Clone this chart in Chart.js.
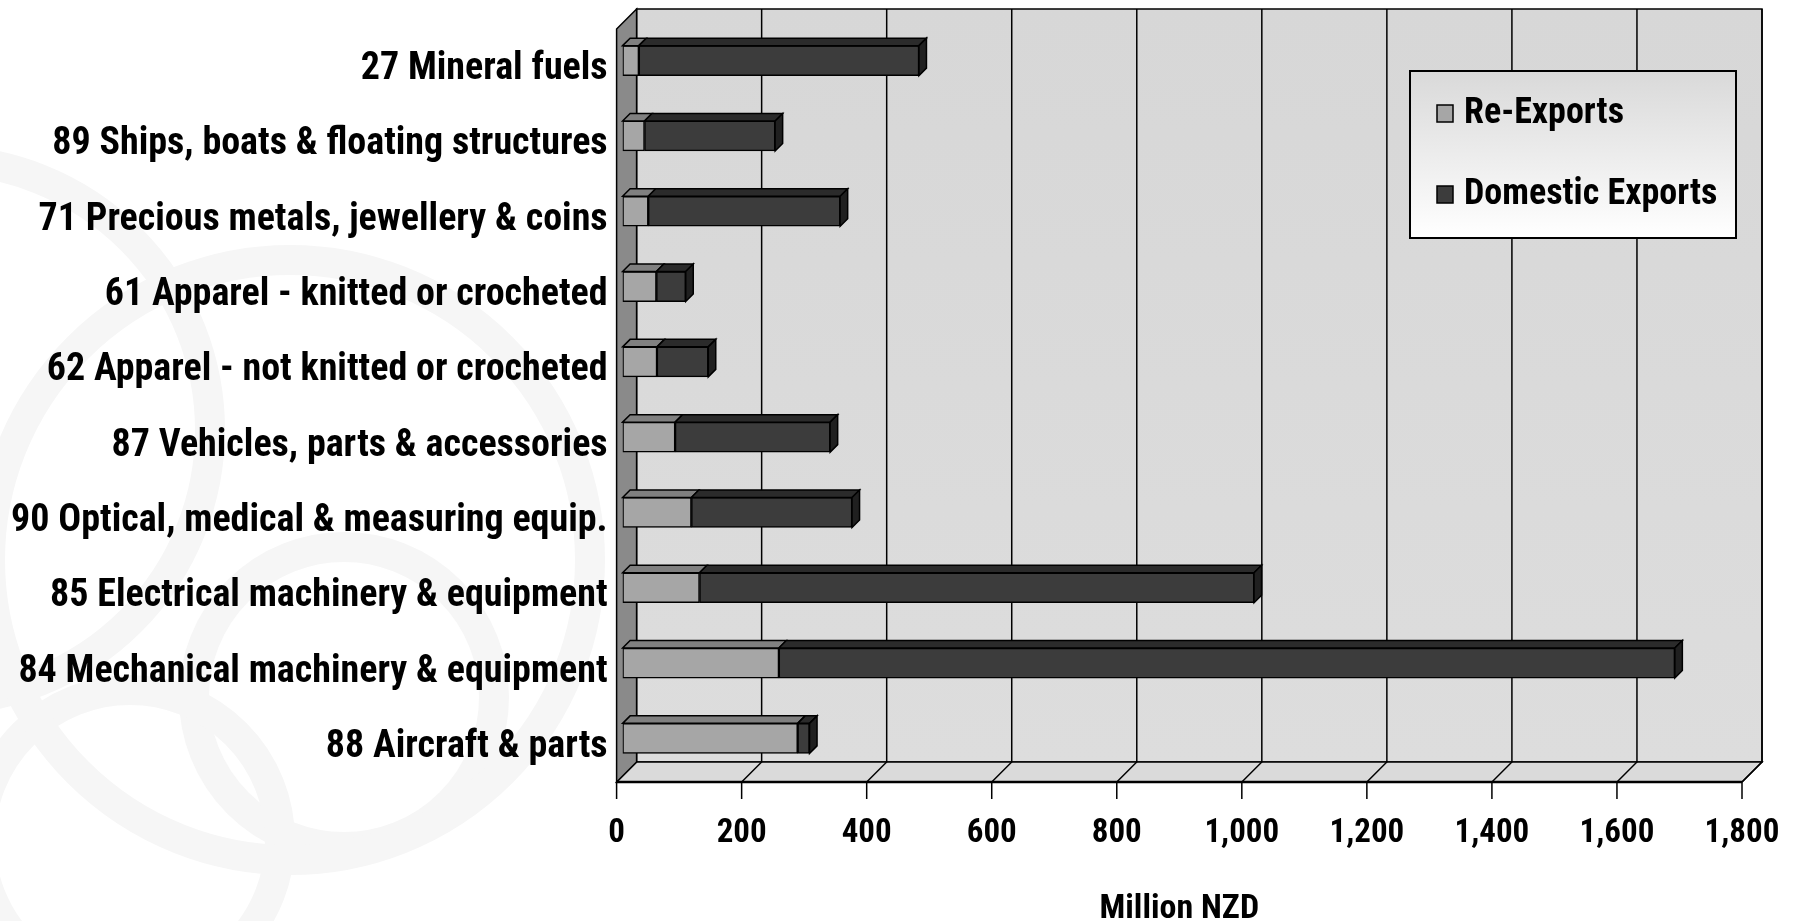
<!DOCTYPE html>
<html><head><meta charset="utf-8">
<script src="https://cdn.jsdelivr.net/npm/chart.js@4.4.0/dist/chart.umd.min.js"></script>
<style>
html,body{margin:0;padding:0;background:#fff;}
#wrap{position:relative;width:1797px;height:921px;}
</style></head><body>
<div id="wrap"><canvas id="c" width="1797" height="921"></canvas></div>
<script>
const categories = [
  '27 Mineral fuels',
  '89 Ships, boats & floating structures',
  '71 Precious metals, jewellery & coins',
  '61 Apparel - knitted or crocheted',
  '62 Apparel - not knitted or crocheted',
  '87 Vehicles, parts & accessories',
  '90 Optical, medical & measuring equip.',
  '85 Electrical machinery & equipment',
  '84 Mechanical machinery & equipment',
  '88 Aircraft & parts'
];
const reExports       = [26, 35, 41, 54, 55, 84, 110, 123, 250, 280];
const domesticExports = [448, 209, 307, 47, 82, 248, 257, 887, 1433, 19];
const seriesNames = ['Re-Exports', 'Domestic Exports'];
const xTickValues = [0, 200, 400, 600, 800, 1000, 1200, 1400, 1600, 1800];
const axisTitle = 'Million NZD';

const FAM = '"Roboto Condensed", "DejaVu Sans Condensed", sans-serif';

const D = 20, BF = 6, BD = 7.5;
const colors = { reFront: '#a6a6a6', reTop: '#808080', doFront: '#3c3c3c', doTop: '#2b2b2b', doSide: '#202020' };

const walls3d = {
  id: 'walls3d',
  beforeDraw(chart) {
    const ctx = chart.ctx;
    const {left:L, right:R, top:T, bottom:B} = chart.chartArea;
    const xs = chart.scales.x;
    ctx.save();
    ctx.fillStyle = '#fff';
    ctx.fillRect(0, 0, chart.width, chart.height);
    ctx.strokeStyle = '#f6f6f6';
    ctx.lineWidth = 30;
    [[344,697,150],[130,840,150],[-60,430,270],[290,560,300]].forEach(([cx,cy,r])=>{
      ctx.beginPath(); ctx.arc(cx,cy,r,0,Math.PI*2); ctx.stroke();
    });
    ctx.lineWidth = 1.5; ctx.strokeStyle = '#000'; ctx.lineJoin = 'miter';
    const g = ctx.createLinearGradient(0, T - D, 0, B - D);
    g.addColorStop(0, '#d7d7d7'); g.addColorStop(1, '#dddddd');
    ctx.fillStyle = g;
    ctx.fillRect(L + D, T - D, R - L, B - T);
    ctx.strokeRect(L + D, T - D, R - L, B - T);
    ctx.beginPath();
    ctx.moveTo(L, B); ctx.lineTo(L + D, B - D); ctx.lineTo(R + D, B - D); ctx.lineTo(R, B); ctx.closePath();
    ctx.fillStyle = '#dadada'; ctx.fill(); ctx.stroke();
    ctx.beginPath();
    ctx.moveTo(L, T); ctx.lineTo(L + D, T - D); ctx.lineTo(L + D, B - D); ctx.lineTo(L, B); ctx.closePath();
    ctx.fillStyle = '#8a8a8a'; ctx.fill(); ctx.stroke();
    xTickValues.forEach(v => {
      const p = xs.getPixelForValue(v);
      ctx.beginPath();
      if (v > 0) { ctx.moveTo(p + D, T - D); ctx.lineTo(p + D, B - D); ctx.lineTo(p, B); }
      ctx.moveTo(p, B); ctx.lineTo(p, B + 17);
      ctx.stroke();
    });
    ctx.lineWidth = 2.5;
    ctx.beginPath(); ctx.moveTo(L, B); ctx.lineTo(R, B); ctx.stroke();
    ctx.restore();
  },
  beforeDatasetsDraw(chart) { chart.ctx.save(); chart.ctx.translate(BF, -BF); },
  afterDatasetsDraw(chart) {
    const ctx = chart.ctx;
    ctx.lineWidth = 1.5; ctx.strokeStyle = '#000'; ctx.lineJoin = 'miter';
    const n = chart.data.datasets.length;
    chart.data.datasets.forEach((ds, di) => {
      chart.getDatasetMeta(di).data.forEach(el => {
        const p = el.getProps(['x','y','base','height'], true);
        const x0 = Math.min(p.base, p.x), x1 = Math.max(p.base, p.x);
        const yt = p.y - p.height / 2, yb = p.y + p.height / 2;
        ctx.beginPath();
        ctx.moveTo(x0, yt); ctx.lineTo(x0 + BD, yt - BD); ctx.lineTo(x1 + BD, yt - BD); ctx.lineTo(x1, yt); ctx.closePath();
        ctx.fillStyle = ds.topColor; ctx.fill(); ctx.stroke();
        if (di === n - 1) {
          ctx.beginPath();
          ctx.moveTo(x1, yt); ctx.lineTo(x1 + BD, yt - BD); ctx.lineTo(x1 + BD, yb - BD); ctx.lineTo(x1, yb); ctx.closePath();
          ctx.fillStyle = ds.sideColor; ctx.fill(); ctx.stroke();
        }
      });
    });
    ctx.restore();
  },
  afterDraw(chart) {
    const ctx = chart.ctx;
    const bx = 1410, by = 71, bw = 326, bh = 167;
    ctx.save();
    const g = ctx.createLinearGradient(0, by, 0, by + bh);
    g.addColorStop(0, '#d9d9d9'); g.addColorStop(1, '#ffffff');
    ctx.fillStyle = g; ctx.fillRect(bx, by, bw, bh);
    ctx.lineWidth = 2; ctx.strokeStyle = '#000'; ctx.strokeRect(bx, by, bw, bh);
    ctx.font = 'bold 36px ' + FAM;
    ctx.textBaseline = 'middle';
    const ys = [114, 195];
    chart.data.datasets.forEach((ds, i) => {
      ctx.fillStyle = ds.backgroundColor; ctx.lineWidth = 1.5;
      ctx.fillRect(1437, ys[i] - 9, 16, 17); ctx.strokeRect(1437, ys[i] - 9, 16, 17);
      ctx.fillStyle = '#000';
      ctx.fillText(ds.label, 1464, ys[i]);
    });
    ctx.restore();
  }
};

new Chart(document.getElementById('c'), {
  type: 'bar',
  data: {
    labels: categories,
    datasets: [
      { label: seriesNames[0], data: reExports, backgroundColor: colors.reFront, topColor: colors.reTop, sideColor: colors.reTop,
        borderColor: '#000', borderWidth: 1.5, borderSkipped: false, barThickness: 30 },
      { label: seriesNames[1], data: domesticExports, backgroundColor: colors.doFront, topColor: colors.doTop, sideColor: colors.doSide,
        borderColor: '#000', borderWidth: 1.5, borderSkipped: false, barThickness: 30 }
    ]
  },
  options: {
    indexAxis: 'y', responsive: false, devicePixelRatio: 1, animation: false,
    layout: { padding: { left: 0, right: 55, top: 29, bottom: 0 } },
    plugins: { legend: { display: false }, tooltip: { enabled: false } },
    scales: {
      x: {
        stacked: true, min: 0, max: 1800,
        grid: { display: false, drawTicks: false }, border: { display: false },
        ticks: { stepSize: 200, autoSkip: false, maxRotation: 0, color: '#000', font: { family: FAM, size: 33, weight: 'bold' }, padding: 32,
          callback: v => Number(v).toLocaleString('en-US') },
        title: { display: true, text: axisTitle, color: '#000', font: { family: FAM, size: 34, weight: 'bold', lineHeight: 0.7 }, padding: { top: 0, bottom: 0 } },
        afterFit: s => { s.height = 139; s.paddingLeft = 0; s.paddingRight = 0; }
      },
      y: {
        stacked: true,
        grid: { display: false, drawTicks: false }, border: { display: false },
        ticks: { autoSkip: false, color: '#000', font: { family: FAM, size: 38, weight: 'bold' }, padding: 9, labelOffset: 3 },
        afterFit: s => { s.width = 616.6; s.paddingTop = 0; s.paddingBottom = 0; }
      }
    }
  },
  plugins: [walls3d]
});
</script>
</body></html>
